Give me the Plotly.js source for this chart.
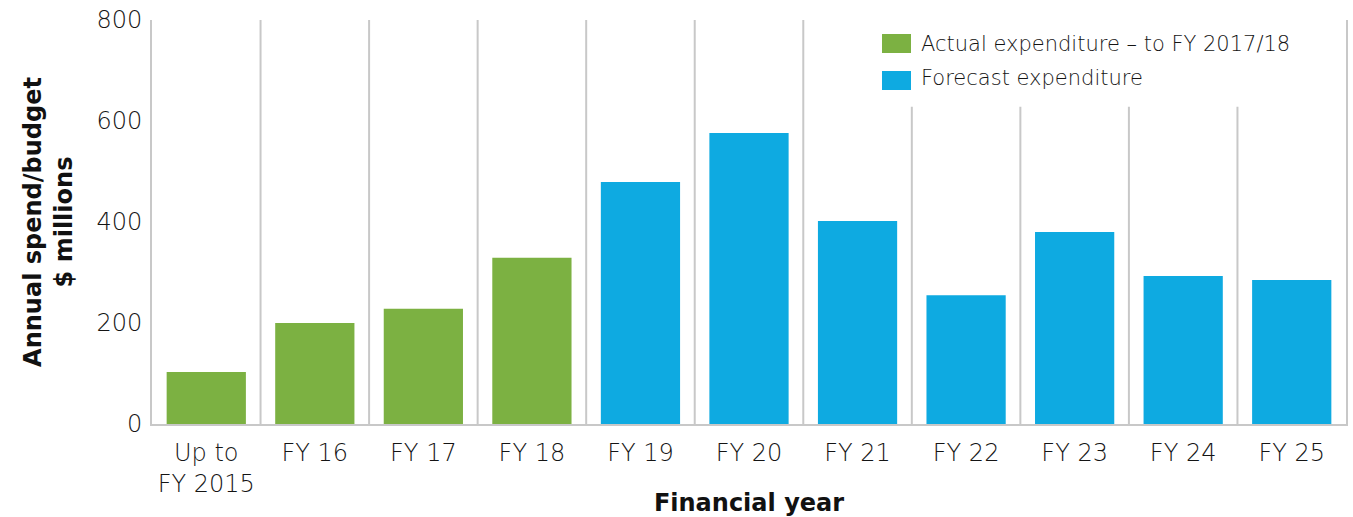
<!DOCTYPE html>
<html>
<head>
<meta charset="utf-8">
<script src="https://cdn.plot.ly/plotly-3.0.1.min.js"></script>
<style>html,body{margin:0;padding:0;background:#fff;}#chart{width:1353px;height:517px;}</style>
</head>
<body>
<div id="chart"></div>
<script>
// Data
const categories = ["Up to<br>FY 2015", "FY 16", "FY 17", "FY 18", "FY 19", "FY 20", "FY 21", "FY 22", "FY 23", "FY 24", "FY 25"];
const actualCategories = ["Up to<br>FY 2015", "FY 16", "FY 17", "FY 18"];
const actualValues = [103, 200, 228, 329];
const forecastCategories = ["FY 19", "FY 20", "FY 21", "FY 22", "FY 23", "FY 24", "FY 25"];
const forecastValues = [479, 576, 402, 255, 380, 293, 285];
const seriesNames = ["Actual expenditure \u2013 to FY 2017/18", "Forecast expenditure"];
const yTickValues = [0, 200, 400, 600, 800];

const GREEN = "#7cb142";
const BLUE = "#0eaae1";
const GRID = "#c8c8c8";
const TXT = "#141414";
const TICKF = {family: "DejaVu Sans", size: 24, color: TXT, weight: 300};
const LEGF = {family: "DejaVu Sans", size: 21, color: TXT, weight: 300};
const BOLD = {family: "DejaVu Sans", size: 24, color: "#111", weight: 700};

const traces = [
  {type: "bar", name: seriesNames[0], x: actualCategories, y: actualValues,
   marker: {color: GREEN}, width: 0.73, hoverinfo: "x+y", showlegend: false},
  {type: "bar", name: seriesNames[1], x: forecastCategories, y: forecastValues,
   marker: {color: BLUE}, width: 0.73, hoverinfo: "x+y", showlegend: false}
];

// vertical separators between categories
const shapes = [];
for (let i = 0; i < categories.length - 1; i++) {
  shapes.push({type: "line", xref: "x", yref: "paper", x0: i + 0.5, x1: i + 0.5, y0: 0, y1: 1,
    line: {color: GRID, width: 2}, layer: "below"});
}
// legend background box (covers separators)
shapes.push({type: "rect", xref: "paper", yref: "paper", x0: 0.585, x1: 0.985, y0: 0.785, y1: 1.01,
  fillcolor: "#ffffff", line: {width: 0}, layer: "below"});
// legend swatches
const legendColors = [GREEN, BLUE];
const swatchY = [[0.9183, 0.9653], [0.8267, 0.8738]];
const textY = [0.9406, 0.8564];
const annotations = [];
for (let k = 0; k < seriesNames.length; k++) {
  shapes.push({type: "rect", xref: "paper", yref: "paper", x0: 0.6114, x1: 0.6357,
    y0: swatchY[k][0], y1: swatchY[k][1], fillcolor: legendColors[k], line: {width: 0}, layer: "above"});
  annotations.push({xref: "paper", yref: "paper", x: 0.6424, y: textY[k], xanchor: "left", yanchor: "middle",
    text: seriesNames[k], showarrow: false, font: LEGF});
}

const layout = {
  width: 1353, height: 517,
  margin: {l: 152, r: 7, t: 20, b: 93, pad: 0},
  paper_bgcolor: "#ffffff", plot_bgcolor: "#ffffff",
  barmode: "overlay",
  showlegend: false,
  font: TICKF,
  xaxis: {
    type: "category", categoryorder: "array", categoryarray: categories,
    range: [-0.5, categories.length - 0.5],
    showgrid: false, zeroline: false, showline: true, linecolor: GRID, linewidth: 2,
    ticks: "", tickfont: TICKF, automargin: false, ticklabelstandoff: 6,
    title: {text: "Financial year", font: BOLD, standoff: 1}
  },
  yaxis: {
    range: [0, 800], tickvals: yTickValues, ticktext: yTickValues.map(String),
    showgrid: false, zeroline: false, showline: true, linecolor: GRID, linewidth: 2, mirror: true,
    ticks: "", tickfont: TICKF, automargin: false, ticklabelstandoff: 3,
    title: {text: "Annual spend/budget<br>$ millions", font: BOLD, standoff: 17}
  },
  shapes: shapes,
  annotations: annotations
};

Plotly.newPlot("chart", traces, layout, {displayModeBar: false, staticPlot: true});
</script>
</body>
</html>
